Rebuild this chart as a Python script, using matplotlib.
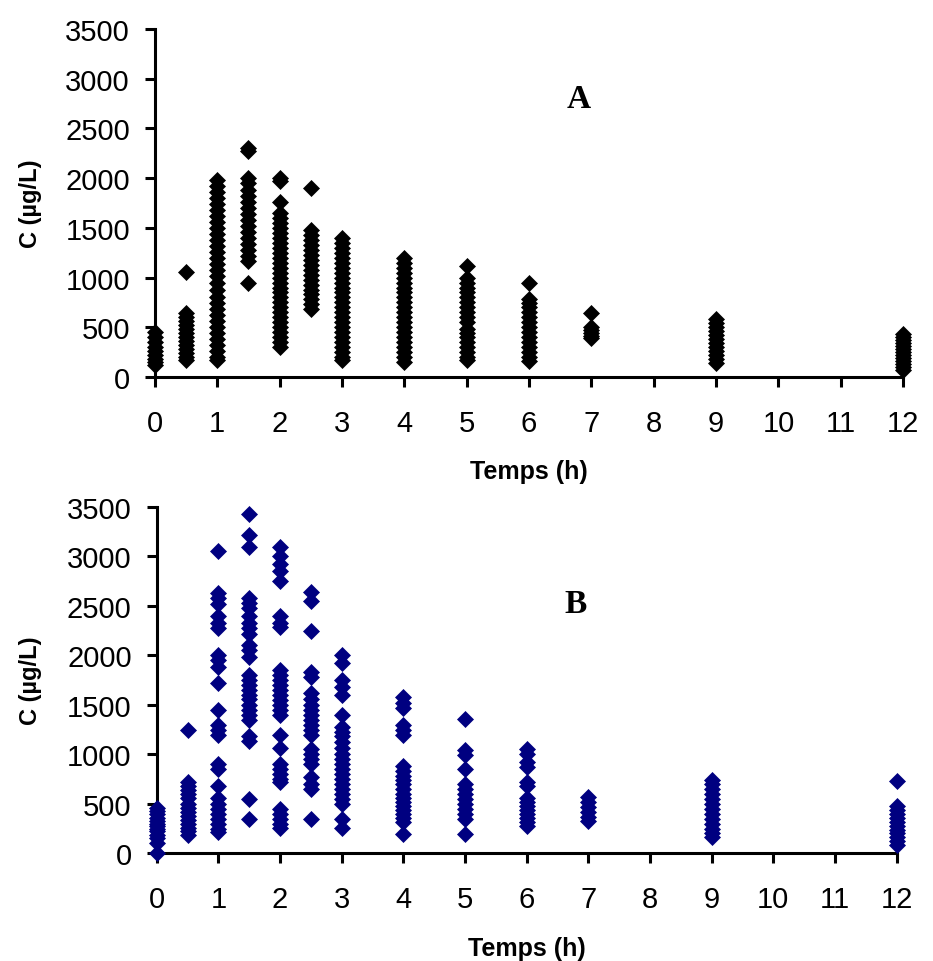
import matplotlib; matplotlib.use("Agg")
import matplotlib.pyplot as plt

# sampling times (h)
TIMES=[0,0.5,1,1.5,2,2.5,3,4,5,6,7,9,12]
XTICKS=list(range(13)); YTICKS=[0,500,1000,1500,2000,2500,3000,3500]
XLABEL="Temps (h)"; YLABEL="C (µg/L)"

# panel A concentrations (µg/L), one list per sampling time
A_CONC=[
 [450,400,350,300,260,220,180,150,120],
 [1060,640,600,560,520,480,440,400,360,320,280,240,200,170],
 [1980,1920,1860,1800,1740,1680,1620,1560,1500,1440,1380,1320,1260,1200,1140,1080,1020,950,880,800,740,680,620,560,500,440,380,320,260,200,170],
 [2300,2270,2000,1950,1880,1820,1760,1700,1640,1580,1520,1460,1400,1340,1280,1220,1170,950],
 [2000,1970,1760,1650,1600,1550,1500,1450,1400,1350,1300,1250,1200,1150,1100,1050,1000,950,900,850,800,750,700,650,600,550,500,450,400,350,300],
 [1900,1480,1430,1380,1330,1280,1230,1180,1130,1080,1030,980,930,880,830,780,730,680],
 [1400,1350,1300,1250,1200,1150,1100,1050,1000,950,900,850,800,750,700,650,600,550,500,450,400,350,300,250,200,170],
 [1200,1150,1100,1050,1000,950,900,850,800,750,700,650,600,550,500,450,400,350,300,250,200,150],
 [1120,1000,950,900,850,800,750,700,650,600,550,480,440,400,350,300,250,200,170],
 [950,780,740,700,650,600,550,500,450,400,350,300,250,200,160],
 [640,500,470,440,410,390],
 [580,540,500,460,420,380,340,300,260,220,180,140],
 [430,400,370,340,310,280,250,220,190,160,130,100,70],
]
# panel B concentrations (µg/L)
B_CONC=[
 [460,430,400,360,330,300,280,250,220,180,150,100,0],
 [1250,720,680,640,600,560,500,460,420,380,340,300,260,220,180],
 [3050,2630,2580,2520,2400,2330,2280,2000,1950,1880,1720,1450,1300,1250,1200,900,850,680,560,500,450,400,350,300,250,210],
 [3430,3220,3100,2580,2530,2480,2400,2330,2280,2220,2100,2050,1980,1800,1750,1700,1650,1600,1560,1500,1450,1400,1350,1180,1130,550,350],
 [3100,3000,2920,2850,2750,2400,2330,2290,1850,1800,1750,1700,1650,1600,1550,1500,1450,1400,1200,1060,900,850,800,750,720,450,400,350,300,260],
 [2640,2550,2250,1830,1780,1620,1560,1500,1450,1400,1350,1300,1250,1200,1050,1000,950,900,770,700,650,350],
 [2000,1920,1750,1680,1600,1400,1280,1230,1180,1120,1060,1000,950,900,850,800,750,700,650,600,550,500,350,260],
 [1580,1520,1470,1300,1250,1200,880,830,780,740,700,650,600,560,520,480,440,400,360,320,190],
 [1360,1040,990,850,700,650,600,550,500,450,400,350,190],
 [1050,1000,920,870,720,680,560,520,480,440,400,360,320,280],
 [570,520,470,420,370,330],
 [740,700,650,600,550,500,450,400,350,300,250,200,160],
 [730,480,440,400,360,320,280,240,200,160,120,80],
]

plt.rcParams["font.family"]=["Liberation Sans","DejaVu Sans"]
fig=plt.figure(figsize=(9.33,9.62),dpi=100)
axA=fig.add_axes([0.166,0.607,0.802,0.362]); axB=fig.add_axes([0.168,0.112,0.793,0.360])
for ax,conc,col,lab,ly in [(axA,A_CONC,"black","A",2800),(axB,B_CONC,"#000080","B",2520)]:
    for t,vals in zip(TIMES,conc):
        ax.plot([t]*len(vals),vals,ls="none",marker="D",ms=8.5,color=col,mec=col,mew=0.5,clip_on=False,zorder=3)
    ax.set_xlim(0,12); ax.set_ylim(0,3500)
    ax.set_xticks(XTICKS); ax.set_yticks(YTICKS)
    for s in ("top","right"): ax.spines[s].set_visible(False)
    for s in ("left","bottom"): ax.spines[s].set_linewidth(2.2)
    ax.tick_params(axis="both",direction="out",length=7,width=2.2)
    ax.tick_params(axis="x",labelsize=21,pad=16); ax.tick_params(axis="y",labelsize=21,pad=11)
    ax.set_xlabel(XLABEL,fontsize=18,fontweight="bold"); ax.set_ylabel(YLABEL,fontsize=17,fontweight="bold")
    ax.text(6.8,ly,lab,ha="center",va="center",fontsize=24,fontweight="bold",family=["Liberation Serif","DejaVu Serif"])
axA.xaxis.set_label_coords(0.5,-0.236); axA.yaxis.set_label_coords(-0.151,0.5)
axB.xaxis.set_label_coords(0.5,-0.24); axB.yaxis.set_label_coords(-0.155,0.5)
plt.savefig("out.png",dpi=100); plt.close()
